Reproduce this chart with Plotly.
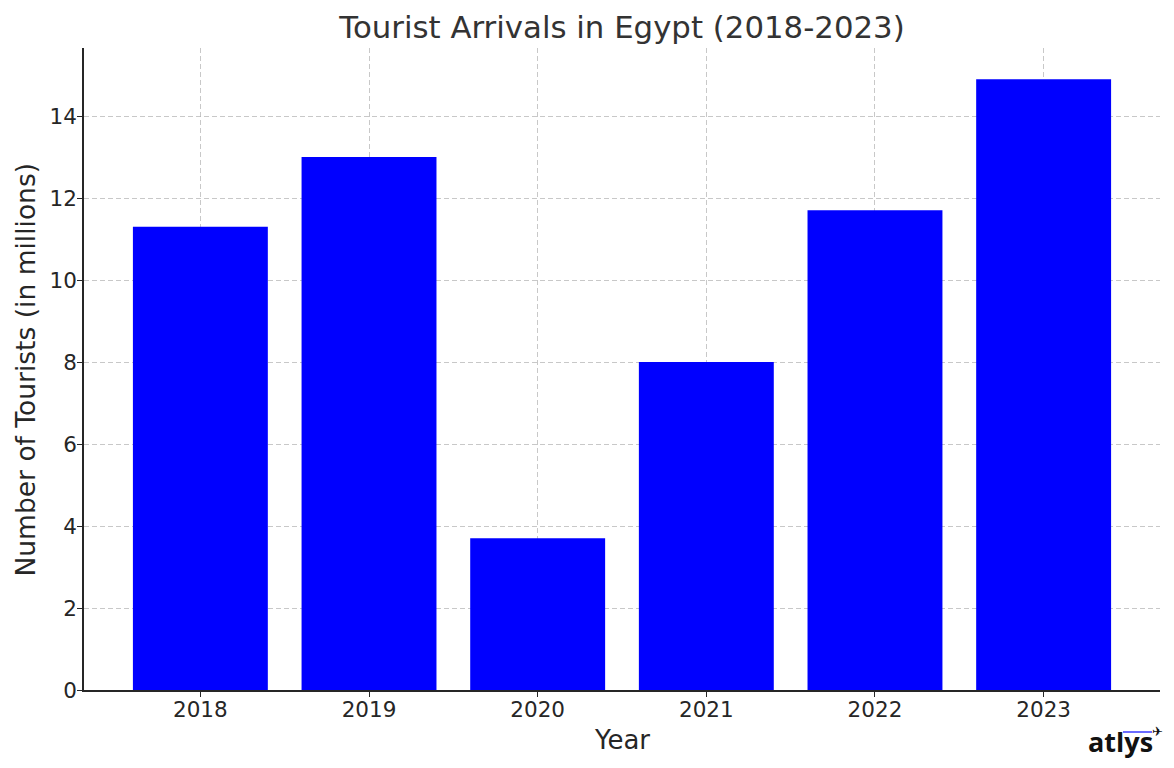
import plotly.graph_objects as go

years = ["2018", "2019", "2020", "2021", "2022", "2023"]
tourists = [11.3, 13.0, 3.7, 8.0, 11.7, 14.9]
y_ticks = [0, 2, 4, 6, 8, 10, 12, 14]

# page body has an 8px margin; figure is sized to fill the rest of the window
OFF = 8
W, H = 1174 - OFF, 768 - OFF
PL, PT, PR, PB = 84, 48, 1160, 690  # plot area in screenshot pixels
L, T = PL - OFF, PT - OFF
R, B = W - (PR - OFF), H - (PB - OFF)


def px(x):
    return (x - PL) / (PR - PL)


def py(y):
    return (PB - y) / (PB - PT)


font = "DejaVu Sans"
ink = "#262626"
grid = "rgba(176,176,176,0.7)"

fig = go.Figure()
fig.add_trace(go.Bar(
    x=list(range(len(years))), y=tourists,
    marker=dict(color="#0000ff", line=dict(width=0)),
    width=0.8,
))

fig.update_layout(
    width=W, height=H,
    margin=dict(l=L, r=R, t=T, b=B, pad=0),
    paper_bgcolor="white", plot_bgcolor="white",
    showlegend=False,
    font=dict(family=font, color=ink),
    title=dict(text="Tourist Arrivals in Egypt (2018-2023)", xref="paper", x=0.5,
               xanchor="center", yref="container", y=1 - (27 - OFF) / H, yanchor="middle",
               font=dict(size=30.8, color="#333333", family=font)),
)
fig.update_xaxes(
    range=[-0.69, 5.69],
    tickmode="array", tickvals=list(range(len(years))), ticktext=years,
    tickfont=dict(size=21.5, color=ink), ticklabelstandoff=-6,
    showline=True, linecolor=ink, linewidth=1.5,
    ticks="outside", ticklen=5, tickcolor=ink, tickwidth=1.2,
    showgrid=True, gridcolor=grid, griddash="5px,3px", gridwidth=1,
    zeroline=False, layer="above traces",
)
fig.update_yaxes(
    range=[0, 15.66],
    tickmode="array", tickvals=y_ticks,
    tickfont=dict(size=21.5, color=ink), ticklabelstandoff=-4,
    showline=True, linecolor=ink, linewidth=1.5,
    ticks="outside", ticklen=5, tickcolor=ink, tickwidth=1.2,
    showgrid=True, gridcolor=grid, griddash="5px,3px", gridwidth=1,
    zeroline=False, layer="above traces",
)

# axis titles
fig.add_annotation(xref="paper", yref="paper", x=0.5, y=py(740), text="Year",
                   showarrow=False, xanchor="center", yanchor="middle",
                   font=dict(size=26, color=ink, family=font))
fig.add_annotation(xref="paper", yref="paper", x=px(25), y=py(369.5),
                   text="Number of Tourists (in millions)", textangle=-90,
                   showarrow=False, xanchor="center", yanchor="middle",
                   font=dict(size=26.5, color=ink, family=font))

# atlys logo
fig.add_annotation(xref="paper", yref="paper", x=px(1120), y=py(741),
                   text="<b>atlys</b>", showarrow=False, xanchor="center", yanchor="middle",
                   font=dict(size=27, color="#111111", family="Open Sans"))
fig.add_shape(type="line", xref="paper", yref="paper",
              x0=px(1123), x1=px(1152), y0=py(732), y1=py(732),
              line=dict(color="#6b6bff", width=2))
fig.add_annotation(xref="paper", yref="paper", x=px(1157), y=py(732),
                   text="✈", showarrow=False, xanchor="center", yanchor="middle",
                   font=dict(size=13, color="#111111", family="DejaVu Sans"))

fig.write_html("out.html")
